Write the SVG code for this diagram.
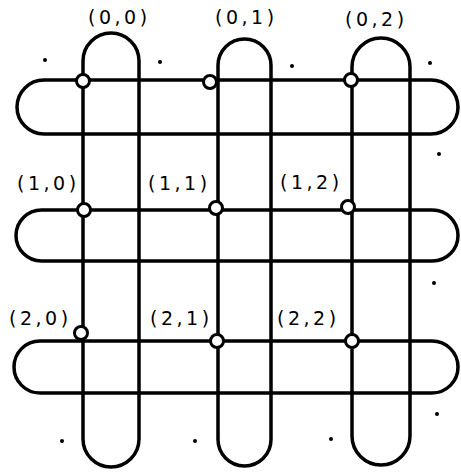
<svg xmlns="http://www.w3.org/2000/svg" width="461" height="474" viewBox="0 0 461 474">
<style>
.loop{fill:none;stroke:#000;stroke-width:3.5}
.node{fill:#fff;stroke:#000;stroke-width:3}
.lbl{font-family:"DejaVu Sans","Liberation Sans",sans-serif;font-size:19px;letter-spacing:3.5px;fill:#000}
.dot{fill:#000}
</style>
<rect width="461" height="474" fill="#fff"/>
<g id="connectors">
<rect class="loop" x="83" y="33" width="56" height="434" rx="28"/>
<rect class="loop" x="218" y="39" width="53" height="427" rx="26.5"/>
<rect class="loop" x="352" y="38" width="58" height="427" rx="29"/>
<rect class="loop" x="17" y="80" width="441" height="54" rx="27"/>
<rect class="loop" x="16" y="210" width="442" height="51" rx="25.5"/>
<rect class="loop" x="14" y="341" width="444" height="52" rx="26"/>
</g>
<g id="n00"><circle class="node" cx="83" cy="81" r="6.5"/><text class="lbl" x="88" y="24">(0,0)</text></g>
<g id="n01"><circle class="node" cx="210" cy="82" r="6.5"/><text class="lbl" x="215" y="24">(0,1)</text></g>
<g id="n02"><circle class="node" cx="351" cy="80" r="6.5"/><text class="lbl" x="345" y="26">(0,2)</text></g>
<g id="n10"><circle class="node" cx="84" cy="210" r="6.5"/><text class="lbl" x="17" y="190">(1,0)</text></g>
<g id="n11"><circle class="node" cx="216" cy="208" r="6.5"/><text class="lbl" x="148" y="190">(1,1)</text></g>
<g id="n12"><circle class="node" cx="348" cy="207" r="6.5"/><text class="lbl" x="280" y="189">(1,2)</text></g>
<g id="n20"><circle class="node" cx="81" cy="333" r="6.5"/><text class="lbl" x="9" y="325">(2,0)</text></g>
<g id="n21"><circle class="node" cx="217" cy="341" r="6.5"/><text class="lbl" x="150" y="325">(2,1)</text></g>
<g id="n22"><circle class="node" cx="352" cy="341" r="6.5"/><text class="lbl" x="277" y="325">(2,2)</text></g>
<g id="dots">
<circle class="dot" cx="45" cy="60" r="2"/>
<circle class="dot" cx="160" cy="62" r="2"/>
<circle class="dot" cx="292" cy="66" r="2"/>
<circle class="dot" cx="430" cy="63" r="2"/>
<circle class="dot" cx="439" cy="154" r="2"/>
<circle class="dot" cx="434" cy="283" r="2"/>
<circle class="dot" cx="437" cy="414" r="2"/>
<circle class="dot" cx="62" cy="441" r="2"/>
<circle class="dot" cx="195" cy="441" r="2"/>
<circle class="dot" cx="331" cy="439" r="2"/>
</g>
</svg>
